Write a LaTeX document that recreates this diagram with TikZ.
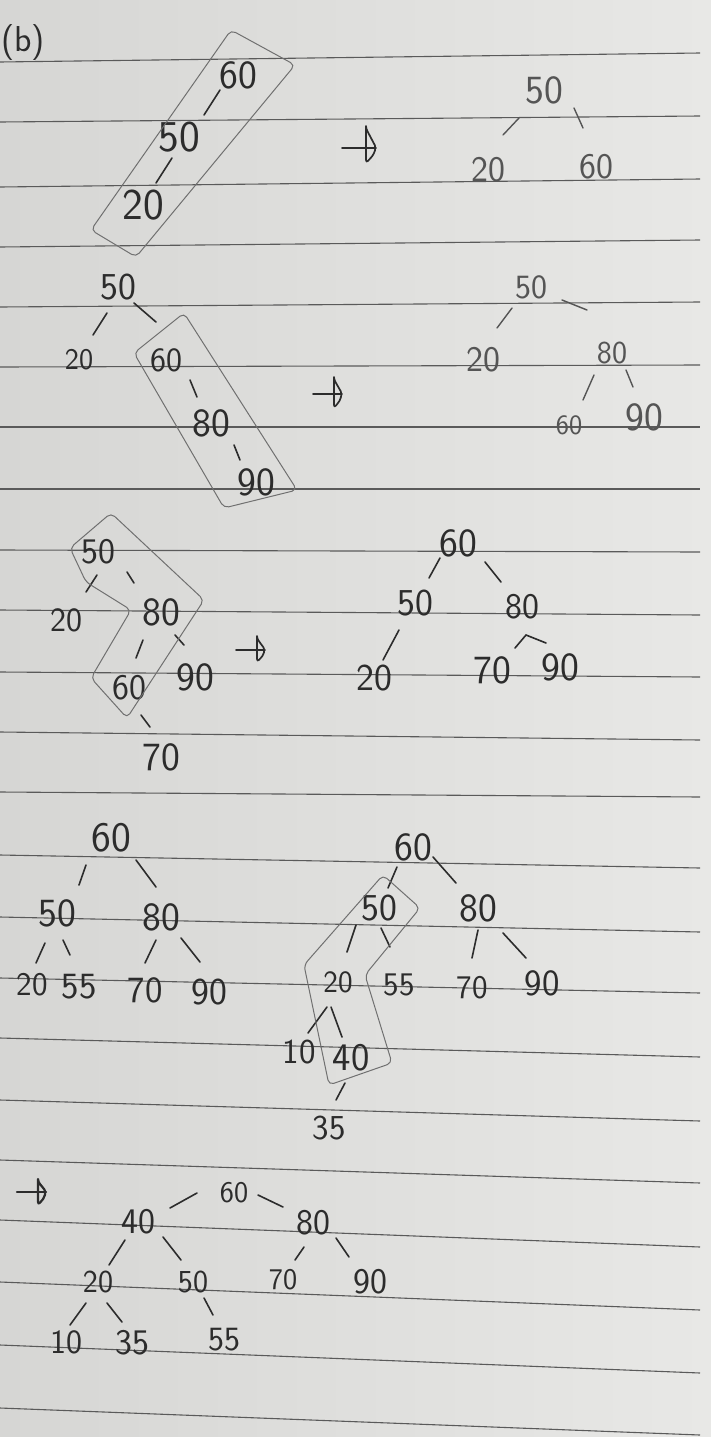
\documentclass[tikz,border=0pt]{standalone}
\usepackage{fontspec}
\usetikzlibrary{calc,arrows.meta}
\definecolor{pencil}{HTML}{2C2C2C}
\definecolor{pencillt}{HTML}{555555}
\definecolor{boxline}{HTML}{707070}
\definecolor{ruled}{HTML}{5A5A5A}
\definecolor{paperL}{HTML}{D6D6D4}
\definecolor{paperR}{HTML}{E8E8E6}
\newcommand\tedge[4]{\draw[edge] ($(#1)+(#3)$) -- ($(#2)+(#4)$);}
% hand-drawn arrow: start, tip, head length, half-height up, half-height down
\newcommand\harrow[5]{%
  \draw[handarrow] (#1) -- (#2);
  \draw[handarrow, rounded corners=3pt] ($(#2)+(-#3,-#4)$) -- ($(#2)+(-#3,#5)$)
     .. controls ($(#2)+(-#3*0.3,#5*0.5)$) .. (#2)
     .. controls ($(#2)+(-#3*0.4,-#4*0.5)$) .. cycle;}
\begin{document}
\begin{tikzpicture}[x=1pt,y=-1pt,
  lab/.style={inner sep=0pt, text=pencil},
  lablt/.style={inner sep=0pt, text=pencillt},
  fs/.style={font={\sffamily\fontsize{#1}{#1}\selectfont}},
  edge/.style={draw=pencil, line width=1.6pt, line cap=round},
  edgelt/.style={draw=pencillt, line width=1.4pt, line cap=round},
  grpbox/.style={draw=boxline, line width=1pt, rounded corners=5pt},
  rule/.style={draw=ruled, line width=1.1pt},
  handarrow/.style={draw=pencil, line width=1.7pt, line cap=round, line join=round}
]
\useasboundingbox (0,0) rectangle (711,1437);
\shade[left color=paperL, right color=paperR] (0,0) rectangle (711,1437);
% ruled lines
\foreach \yl/\yr in {62/53,122/116,187/179,247/240,307/302,367/365,427/427,489/489,
  550/552,610/615,672/677,732/740,792/797,855/868,917/932,978/993,1038/1057,
  1100/1121,1160/1183,1220/1247,1282/1310,1345/1373,1408/1435}
  \draw[rule] (0,\yl) -- (700,\yr);

\node[lab, fs=36] (lbl) at (23,43) {(b)};

% ---------- panel 1 ----------
\node[lab, fs=40] (a60) at (238,75) {60};
\node[lab, fs=44] (a50) at (179,137) {50};
\node[lab, fs=44] (a20) at (143,205) {20};
\tedge{a60}{a50}{-18,15}{25,-22}
\tedge{a50}{a20}{-7,21}{13,-22}
\draw[grpbox] (231,30) -- (295,65) -- (136,257) -- (91,230) -- cycle;
\coordinate (ar1s) at (342,148); \coordinate (ar1e) at (376,148);
\harrow{ar1s}{ar1e}{10}{19}{15}
\node[lablt, fs=40] (b50) at (544,90) {50};
\node[lablt, fs=36] (b20) at (488,170) {20};
\node[lablt, fs=36] (b60) at (596,167) {60};
\begin{scope}[edge/.style={edgelt}]
\tedge{b50}{b20}{-25,28}{15,-35}
\tedge{b50}{b60}{30,18}{-13,-39}
\end{scope}

% ---------- panel 2 ----------
\node[lab, fs=38] (c50) at (118,287) {50};
\node[lab, fs=30] (c20) at (79,360) {20};
\node[lab, fs=34] (c60) at (166,360) {60};
\node[lab, fs=40] (c80) at (211,423) {80};
\node[lab, fs=40] (c90) at (256,482) {90};
\tedge{c50}{c20}{-11,26}{14,-25}
\tedge{c50}{c60}{16,16}{-10,-38}
\tedge{c60}{c80}{24,20}{-14,-26}
\tedge{c80}{c90}{23,22}{-16,-22}
\draw[grpbox] (184,313) -- (297,490) -- (224,508) -- (134,353) -- cycle;
\coordinate (ar2s) at (313,394); \coordinate (ar2e) at (342,394);
\harrow{ar2s}{ar2e}{8}{14}{14}
\node[lablt, fs=34] (d50) at (531,287) {50};
\node[lablt, fs=36] (d20) at (483,360) {20};
\node[lablt, fs=32] (d80) at (612,353) {80};
\node[lablt, fs=28] (d60) at (569,425) {60};
\node[lablt, fs=40] (d90) at (644,417) {90};
\begin{scope}[edge/.style={edgelt}]
\tedge{d50}{d20}{-19,21}{14,-32}
\tedge{d50}{d80}{31,13}{-25,-43}
\tedge{d80}{d60}{-18,22}{14,-25}
\tedge{d80}{d90}{14,17}{-11,-30}
\end{scope}

% ---------- panel 3 ----------
\node[lab, fs=36] (e50) at (98,552) {50};
\node[lab, fs=34] (e20) at (66,620) {20};
\node[lab, fs=40] (e80) at (161,612) {80};
\node[lab, fs=40] (e90) at (195,677) {90};
\node[lab, fs=36] (e60) at (129,688) {60};
\node[lab, fs=40] (e70) at (161,757) {70};
\tedge{e50}{e20}{-1,23}{20,-28}
\tedge{e50}{e80}{29,20}{-27,-29}
\tedge{e80}{e60}{-18,28}{7,-30}
\tedge{e80}{e90}{14,23}{-11,-32}
\tedge{e60}{e70}{12,27}{-11,-30}
\draw[grpbox] (70,548) -- (111,513) -- (204,600) -- (127,718) -- (91,678) -- (131,610) -- (86,582) -- cycle;
\coordinate (ar3s) at (236,650); \coordinate (ar3e) at (265,650);
\harrow{ar3s}{ar3e}{8}{11}{12}
\node[lab, fs=40] (f60) at (458,543) {60};
\node[lab, fs=38] (f50) at (415,603) {50};
\node[lab, fs=36] (f80) at (522,607) {80};
\node[lab, fs=38] (f20) at (374,678) {20};
\node[lab, fs=40] (f70) at (492,670) {70};
\node[lab, fs=40] (f90) at (560,667) {90};
\tedge{f60}{f50}{-18,15}{14,-25}
\tedge{f60}{f80}{27,19}{-21,-25}
\tedge{f50}{f20}{-16,27}{9,-18}
\tedge{f80}{f70}{4,28}{23,-22}
\tedge{f80}{f90}{4,28}{-14,-24}

% ---------- panel 4 ----------
\node[lab, fs=42] (g60) at (111,838) {60};
\node[lab, fs=40] (g50) at (57,913) {50};
\node[lab, fs=40] (g80) at (161,917) {80};
\node[lab, fs=33] (g20) at (32,985) {20};
\node[lab, fs=37] (g55) at (79,987) {55};
\node[lab, fs=37] (g70) at (145,990) {70};
\node[lab, fs=38] (g90) at (209,992) {90};
\tedge{g60}{g50}{-25,27}{22,-28}
\tedge{g60}{g80}{25,22}{-5,-30}
\tedge{g50}{g20}{-12,30}{4,-22}
\tedge{g50}{g55}{6,27}{-9,-32}
\tedge{g80}{g70}{-5,23}{0,-27}
\tedge{g80}{g90}{20,21}{-9,-30}

\node[lab, fs=40] (h60) at (413,847) {60};
\node[lab, fs=38] (h50) at (379,908) {50};
\node[lab, fs=40] (h80) at (478,908) {80};
\node[lab, fs=31] (h20) at (338,982) {20};
\node[lab, fs=33] (h55) at (399,985) {55};
\node[lab, fs=33] (h70) at (472,988) {70};
\node[lab, fs=37] (h90) at (542,983) {90};
\node[lab, fs=35] (h10) at (299,1052) {10};
\node[lab, fs=39] (h40) at (351,1058) {40};
\node[lab, fs=35] (h35) at (329,1128) {35};
\tedge{h60}{h50}{-16,20}{9,-20}
\tedge{h60}{h80}{20,10}{-22,-25}
\tedge{h50}{h20}{-23,17}{9,-30}
\tedge{h50}{h55}{2,20}{-9,-38}
\tedge{h80}{h70}{0,22}{0,-30}
\tedge{h80}{h90}{25,25}{-16,-25}
\tedge{h20}{h10}{-11,25}{9,-19}
\tedge{h20}{h40}{-7,25}{-9,-21}
\tedge{h40}{h35}{-6,25}{7,-28}
\draw[grpbox] (383,875) -- (420,908) -- (365,975) -- (392,1063) -- (329,1085) -- (304,965) -- cycle;

% ---------- panel 5 ----------
\coordinate (ar5s) at (17,1192); \coordinate (ar5e) at (46,1192);
\begin{scope}[handarrow/.append style={line width=2.2pt}]
\harrow{ar5s}{ar5e}{8}{10}{13}
\end{scope}
\node[lab, fs=30] (k60) at (234,1193) {60};
\node[lab, fs=36] (k40) at (138,1222) {40};
\node[lab, fs=36] (k80) at (313,1223) {80};
\node[lab, fs=32] (k20) at (98,1282) {20};
\node[lab, fs=32] (k50) at (193,1282) {50};
\node[lab, fs=30] (k70) at (283,1280) {70};
\node[lab, fs=36] (k90) at (370,1282) {90};
\node[lab, fs=34] (k10) at (66,1342) {10};
\node[lab, fs=36] (k35) at (132,1343) {35};
\node[lab, fs=34] (k55) at (224,1340) {55};
\tedge{k60}{k40}{-37,0}{32,-14}
\tedge{k60}{k80}{24,2}{-30,-16}
\tedge{k40}{k20}{-13,18}{11,-17}
\tedge{k40}{k50}{25,15}{-12,-22}
\tedge{k80}{k70}{-9,24}{12,-20}
\tedge{k80}{k90}{23,15}{-21,-25}
\tedge{k20}{k10}{-12,21}{4,-17}
\tedge{k20}{k35}{9,21}{-10,-21}
\tedge{k50}{k55}{11,16}{-11,-25}
\end{tikzpicture}
\end{document}
